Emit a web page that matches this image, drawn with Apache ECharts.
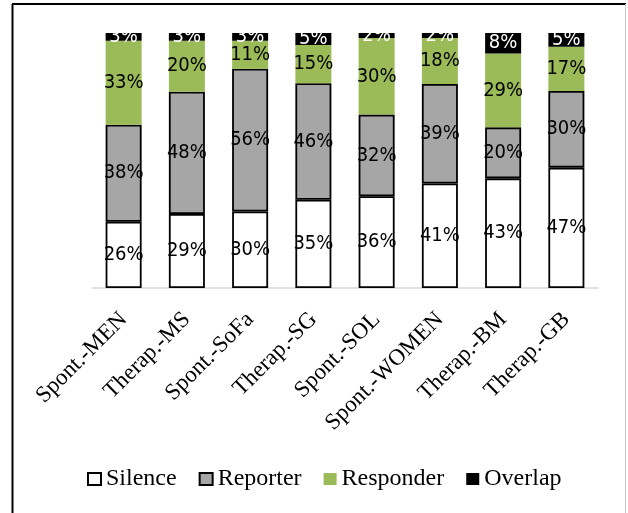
<!DOCTYPE html>
<html>
<head>
<meta charset="utf-8">
<script src="https://cdn.jsdelivr.net/npm/echarts@6/dist/echarts.min.js"></script>
<style>
html,body{margin:0;padding:0;background:#fff;}
#main{width:628px;height:513px;}
</style>
</head>
<body>
<div id="main"></div>
<script>
var categories = ['Spont.-MEN','Therap.-MS','Spont.-SoFa','Therap.-SG','Spont.-SOL','Spont.-WOMEN','Therap.-BM','Therap.-GB'];
var silence   = [26, 29, 30, 34.6, 36, 41, 43, 47.2];
var reporter  = [38, 48, 56, 45.7, 32, 39, 20, 30.1];
var responder = [33, 20, 11, 15.0, 30, 18, 29, 17.3];
var overlap   = [3, 3, 3, 4.7, 2, 2, 8, 5.4];

var chart = echarts.init(document.getElementById('main'), null, {renderer:'canvas'});
function lbl(color){
  return {show:true, position:'inside', color:color, fontFamily:'DejaVu Sans Condensed', fontSize:20,
    formatter:function(p){return Math.round(p.value)+'%';}};
}
chart.setOption({
  animation:false,
  backgroundColor:'#fff',
  grid:{left:92, right:30, top:33, bottom:225, containLabel:false},
  legend:{
    left:82, top:462, itemWidth:13, itemHeight:12, itemGap:22,
    icon:'rect',
    textStyle:{fontFamily:'Liberation Serif', fontSize:24, color:'#000'},
    data:['Silence','Reporter','Responder','Overlap']
  },
  xAxis:{
    type:'category', data:categories,
    axisLine:{lineStyle:{color:'#d9d9d9', width:1.5}},
    axisTick:{show:false},
    axisLabel:{rotate:45, interval:0, margin:28, fontFamily:'Liberation Serif', fontSize:23, color:'#000'}
  },
  yAxis:{type:'value', min:0, max:100, show:false, splitLine:{show:false}},
  series:[
    {name:'Silence', type:'bar', stack:'a', barWidth:36, data:silence,
      itemStyle:{color:'#ffffff', borderColor:'#000', borderWidth:1.8}, label:lbl('#000')},
    {name:'Reporter', type:'bar', stack:'a', barWidth:36, data:reporter,
      itemStyle:{color:'#a6a6a6', borderColor:'#000', borderWidth:1.8}, label:lbl('#000')},
    {name:'Responder', type:'bar', stack:'a', barWidth:36, data:responder,
      itemStyle:{color:'#9bbb59'}, label:lbl('#000')},
    {name:'Overlap', type:'bar', stack:'a', barWidth:36, data:overlap,
      itemStyle:{color:'#000000'}, label:lbl('#fff')}
  ],
  graphic:[
    {type:'line', shape:{x1:12.5, y1:4, x2:12.5, y2:513}, style:{stroke:'#000', lineWidth:2}},
    {type:'line', shape:{x1:12, y1:4, x2:626, y2:4}, style:{stroke:'#000', lineWidth:2}},
    {type:'line', shape:{x1:625.5, y1:4, x2:625.5, y2:513}, style:{stroke:'#c8c8c8', lineWidth:1}}
  ]
});
</script>
</body>
</html>
